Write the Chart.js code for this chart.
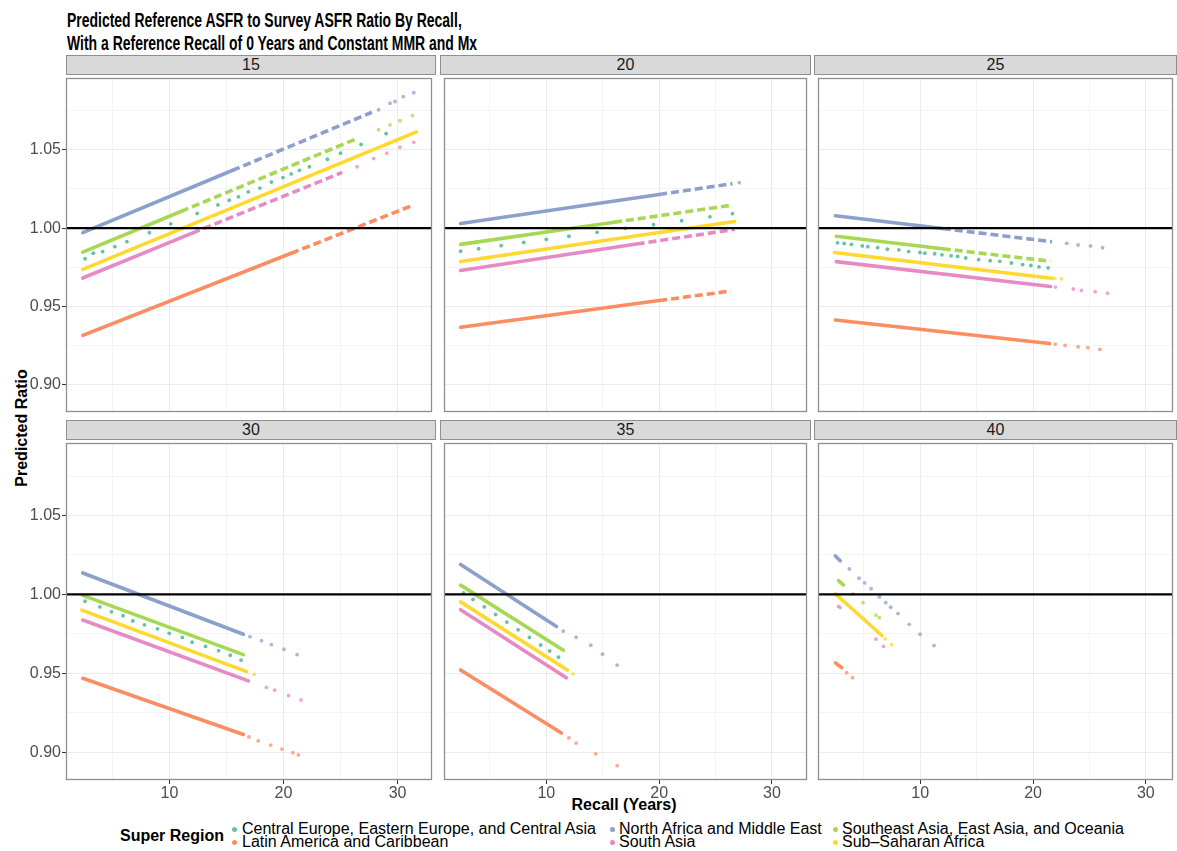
<!DOCTYPE html>
<html><head><meta charset="utf-8">
<title>Predicted Reference ASFR to Survey ASFR Ratio By Recall</title>
<script src="https://cdn.jsdelivr.net/npm/chart.js@4.4.1/dist/chart.umd.min.js"></script>
<style>
html,body{margin:0;padding:0;background:#fff;}
body{width:1177px;height:851px;position:relative;overflow:hidden;font-family:"Liberation Sans",Arial,Helvetica,sans-serif;}
canvas{position:absolute;}
.txt{position:absolute;white-space:nowrap;}
.title{left:67px;top:8px;font-weight:bold;font-size:21px;line-height:23px;color:#000;transform:scaleX(0.665);transform-origin:0 0;}
.strip{position:absolute;background:#d9d9d9;border:1px solid #8f8f8f;box-sizing:border-box;text-align:center;color:#1a1a1a;font-size:16px;}
.axt{font-weight:bold;font-size:16px;line-height:18px;color:#000;}
.leg{font-size:16px;line-height:16px;color:#000;}
.dot{position:absolute;width:5px;height:5px;border-radius:50%;}
</style></head><body>
<div class="txt title">Predicted Reference ASFR to Survey ASFR Ratio By Recall,<br>With a Reference Recall of 0 Years and Constant MMR and Mx</div>
<div class="txt axt" style="left:22px;top:428px;transform:translate(-50%,-50%) rotate(-90deg);">Predicted Ratio</div>
<div class="txt axt" style="left:624px;top:805px;transform:translate(-50%,-50%);">Recall (Years)</div>
<div class="txt axt" style="left:120px;top:827px;">Super Region</div>
<script>
// ---------- categories / labels ----------
const regions = ["Central Europe, Eastern Europe, and Central Asia","Latin America and Caribbean","North Africa and Middle East","South Asia","Southeast Asia, East Asia, and Oceania","Sub\u2013Saharan Africa"];
const regionKeys = ["CEE","LAC","NAME","SA","SEA","SSA"];
const facetAges = ["15","20","25","30","35","40"];
const yTickValues = [0.90, 0.95, 1.00, 1.05];
const xTickValues = [10, 20, 30];
const referenceRatio = 1.00;

// ---------- series values [recall, ratio] ----------
// Age 15
const p15_CEE_dots = [[2.60,0.9804],[3.32,0.9840],[4.14,0.9850],[5.21,0.9881],[6.27,0.9913],[8.24,0.9971],[10.12,1.0027],[12.43,1.0094],[14.25,1.0148],[15.24,1.0178],[16.05,1.0200],[16.91,1.0231],[17.93,1.0256],[18.94,1.0294],[19.95,1.0323],[20.67,1.0346],[21.40,1.0369],[22.27,1.0392],[23.85,1.0440],[25.00,1.0479],[26.80,1.0534],[29.00,1.0603]];
const p15_LAC_line = [[2.40,0.9315],[20.67,0.9839]];
const p15_LAC_dash = [[20.67,0.9839],[31.42,1.0148]];
const p15_NAME_line = [[2.40,0.9971],[15.50,1.0368]];
const p15_NAME_dash = [[15.50,1.0368],[27.75,1.0740]];
const p15_NAME_dots = [[28.34,1.0756],[29.34,1.0798],[29.78,1.0809],[30.50,1.0840],[31.42,1.0865]];
const p15_SA_line = [[2.40,0.9681],[12.00,0.9968]];
const p15_SA_dash = [[12.00,0.9968],[25.15,1.0356]];
const p15_SA_dots = [[26.45,1.0392],[27.90,1.0444],[29.06,1.0479],[30.21,1.0517],[31.42,1.0548]];
const p15_SEA_line = [[2.40,0.9846],[11.00,1.0106]];
const p15_SEA_dash = [[11.00,1.0106],[26.31,1.0568]];
const p15_SEA_dots = [[28.34,1.0629],[29.34,1.0660],[30.21,1.0686],[31.31,1.0719]];
const p15_SSA_line = [[2.40,0.9736],[31.66,1.0615]];
// Age 20
const p20_CEE_dots = [[2.40,0.9852],[4.00,0.9868],[6.00,0.9888],[8.00,0.9908],[10.00,0.9928],[12.00,0.9948],[14.50,0.9973],[17.00,0.9998],[19.50,1.0022],[22.00,1.0047],[24.50,1.0072],[26.50,1.0092]];
const p20_LAC_line = [[2.40,0.9367],[20.00,0.9537]];
const p20_LAC_dash = [[20.00,0.9537],[26.35,0.9598]];
const p20_NAME_line = [[2.40,1.0029],[20.00,1.0215]];
const p20_NAME_dash = [[20.00,1.0215],[26.50,1.0284]];
const p20_NAME_dots = [[27.10,1.0290]];
const p20_SA_line = [[2.40,0.9729],[18.00,0.9898]];
const p20_SA_dash = [[18.00,0.9898],[26.70,0.9992]];
const p20_SEA_line = [[2.40,0.9896],[16.00,1.0037]];
const p20_SEA_dash = [[16.00,1.0037],[26.50,1.0147]];
const p20_SSA_line = [[2.40,0.9786],[26.70,1.0042]];
// Age 25
const p25_CEE_dots = [[2.66,0.9906],[3.25,0.9902],[3.90,0.9896],[4.86,0.9886],[5.35,0.9881],[6.22,0.9875],[7.08,0.9865],[8.10,0.9861],[8.97,0.9850],[9.98,0.9844],[10.41,0.9840],[11.28,0.9836],[11.92,0.9829],[12.73,0.9823],[13.31,0.9819],[14.03,0.9809],[15.18,0.9798],[16.20,0.9792],[17.06,0.9788],[18.08,0.9777],[19.08,0.9767],[19.81,0.9761],[20.53,0.9752],[21.34,0.9746]];
const p25_LAC_line = [[2.47,0.9413],[21.46,0.9263]];
const p25_LAC_dots = [[21.98,0.9259],[22.84,0.9250],[24.00,0.9242],[24.86,0.9236],[25.93,0.9225]];
const p25_NAME_line = [[2.47,1.0079],[12.00,0.9997]];
const p25_NAME_dash = [[12.00,0.9997],[21.69,0.9913]];
const p25_NAME_dots = [[22.99,0.9903],[24.00,0.9892],[25.10,0.9886],[26.17,0.9875]];
const p25_SA_line = [[2.55,0.9786],[21.55,0.9627]];
const p25_SA_dots = [[21.98,0.9623],[23.57,0.9611],[24.29,0.9602],[25.51,0.9594],[26.61,0.9584]];
const p25_SEA_line = [[2.55,0.9948],[12.00,0.9868]];
const p25_SEA_dash = [[12.00,0.9868],[21.55,0.9788]];
const p25_SSA_line = [[2.38,0.9844],[21.63,0.9679]];
const p25_SSA_dots = [[21.92,0.9679],[22.50,0.9675]];
// Age 30
const p30_CEE_dots = [[2.60,0.9957],[3.90,0.9921],[4.92,0.9890],[5.93,0.9865],[6.79,0.9832],[7.81,0.9807],[8.96,0.9782],[9.98,0.9754],[11.13,0.9728],[11.99,0.9698],[13.16,0.9671],[14.31,0.9644],[15.33,0.9615],[16.28,0.9584]];
const p30_LAC_line = [[2.40,0.9469],[16.48,0.9113]];
const p30_LAC_dots = [[16.97,0.9098],[17.78,0.9073],[18.88,0.9046],[19.86,0.9021],[20.82,0.8998],[21.31,0.8984]];
const p30_NAME_line = [[2.40,1.0136],[16.48,0.9748]];
const p30_NAME_dots = [[17.06,0.9732],[18.07,0.9707],[18.94,0.9682],[20.04,0.9653],[21.19,0.9619]];
const p30_SA_line = [[2.40,0.9838],[16.92,0.9453]];
const p30_SA_dots = [[18.50,0.9411],[19.23,0.9394],[20.44,0.9359],[21.54,0.9332]];
const p30_SEA_line = [[2.40,0.9994],[16.48,0.9619]];
const p30_SSA_line = [[2.32,0.9901],[16.77,0.9511]];
const p30_SSA_dots = [[17.43,0.9494]];
// Age 35
const p35_CEE_dots = [[2.66,1.0009],[3.50,0.9968],[4.50,0.9921],[5.50,0.9873],[6.50,0.9825],[7.50,0.9776],[8.50,0.9728],[9.50,0.9680],[10.30,0.9642],[11.08,0.9603]];
const p35_LAC_line = [[2.40,0.9522],[11.34,0.9122]];
const p35_LAC_dots = [[12.00,0.9092],[12.64,0.9059],[14.37,0.8991],[16.28,0.8916]];
const p35_NAME_line = [[2.40,1.0190],[10.90,0.9797]];
const p35_NAME_dots = [[11.50,0.9768],[12.64,0.9729],[13.94,0.9679],[14.98,0.9622],[16.28,0.9553]];
const p35_SA_line = [[2.40,0.9903],[11.77,0.9472]];
const p35_SEA_line = [[2.40,1.0059],[11.51,0.9647]];
const p35_SSA_line = [[2.40,0.9953],[11.86,0.9522]];
const p35_SSA_dots = [[12.38,0.9497]];
// Age 40
const p40_LAC_line = [[2.47,0.9567],[3.04,0.9536]];
const p40_LAC_dots = [[3.47,0.9504],[3.99,0.9473]];
const p40_NAME_line = [[2.47,1.0244],[2.90,1.0213]];
const p40_NAME_dots = [[3.71,1.0161],[4.57,1.0103],[5.07,1.0073],[5.64,1.0036],[6.37,0.9984],[6.94,0.9948],[7.37,0.9919],[8.02,0.9879],[9.02,0.9811],[9.98,0.9748],[11.22,0.9676]];
const p40_SA_dots = [[2.75,0.9925],[2.90,0.9917],[6.07,0.9717],[6.74,0.9671]];
const p40_SEA_line = [[2.75,1.0088],[3.18,1.0061]];
const p40_SEA_dots = [[4.05,1.0004],[4.92,0.9948],[6.07,0.9869],[6.37,0.9853]];
const p40_SSA_line = [[2.47,1.0004],[6.59,0.9740]];
const p40_SSA_dots = [[6.89,0.9719],[7.46,0.9682]];

// ---------- lookup built from the arrays ----------
const seriesByAge = {
  "15": {CEE:{dots:p15_CEE_dots}, LAC:{line:p15_LAC_line,dash:p15_LAC_dash}, NAME:{line:p15_NAME_line,dash:p15_NAME_dash,dots:p15_NAME_dots}, SA:{line:p15_SA_line,dash:p15_SA_dash,dots:p15_SA_dots}, SEA:{line:p15_SEA_line,dash:p15_SEA_dash,dots:p15_SEA_dots}, SSA:{line:p15_SSA_line}},
  "20": {CEE:{dots:p20_CEE_dots}, LAC:{line:p20_LAC_line,dash:p20_LAC_dash}, NAME:{line:p20_NAME_line,dash:p20_NAME_dash,dots:p20_NAME_dots}, SA:{line:p20_SA_line,dash:p20_SA_dash}, SEA:{line:p20_SEA_line,dash:p20_SEA_dash}, SSA:{line:p20_SSA_line}},
  "25": {CEE:{dots:p25_CEE_dots}, LAC:{line:p25_LAC_line,dots:p25_LAC_dots}, NAME:{line:p25_NAME_line,dash:p25_NAME_dash,dots:p25_NAME_dots}, SA:{line:p25_SA_line,dots:p25_SA_dots}, SEA:{line:p25_SEA_line,dash:p25_SEA_dash}, SSA:{line:p25_SSA_line,dots:p25_SSA_dots}},
  "30": {CEE:{dots:p30_CEE_dots}, LAC:{line:p30_LAC_line,dots:p30_LAC_dots}, NAME:{line:p30_NAME_line,dots:p30_NAME_dots}, SA:{line:p30_SA_line,dots:p30_SA_dots}, SEA:{line:p30_SEA_line}, SSA:{line:p30_SSA_line,dots:p30_SSA_dots}},
  "35": {CEE:{dots:p35_CEE_dots}, LAC:{line:p35_LAC_line,dots:p35_LAC_dots}, NAME:{line:p35_NAME_line,dots:p35_NAME_dots}, SA:{line:p35_SA_line}, SEA:{line:p35_SEA_line}, SSA:{line:p35_SSA_line,dots:p35_SSA_dots}},
  "40": {LAC:{line:p40_LAC_line,dots:p40_LAC_dots}, NAME:{line:p40_NAME_line,dots:p40_NAME_dots}, SA:{dots:p40_SA_dots}, SEA:{line:p40_SEA_line,dots:p40_SEA_dots}, SSA:{line:p40_SSA_line,dots:p40_SSA_dots}}
};

// ---------- styles / layout ----------
const SET2 = ["#66C2A5","#FC8D62","#8DA0CB","#E78AC3","#A6D854","#FFD92F"];
const FONT = '"Liberation Sans", Arial, Helvetica, sans-serif';
function rgba(hex,a){const n=parseInt(hex.slice(1),16);return `rgba(${n>>16},${(n>>8)&255},${n&255},${a})`;}
const colLeft=[66,440,814], colW=[370,371,363], rowTop=[74,439], rowH=[342,341];
const X_MIN=0.93, xMaxByCol=[0.93+370/11.53, 0.93+371/11.53, 0.93+363/11.53];
const Y_MIN=0.8825, Y_MAX=1.0959;
const LY=56, LX=26;
const isMajorX=v=>xTickValues.some(t=>Math.abs(t-v)<1e-6);
const isMajorY=v=>yTickValues.some(t=>Math.abs(t-v)<1e-6);
const toXY=arr=>arr.map(p=>({x:p[0],y:p[1]}));

const panelDecor={id:'panelDecor',
  afterDatasetsDraw(chart){
    const {ctx,chartArea:a,scales}=chart;
    const py=scales.y.getPixelForValue(referenceRatio);
    ctx.save();
    ctx.beginPath();ctx.moveTo(a.left,py);ctx.lineTo(a.right,py);
    ctx.lineWidth=2.3;ctx.strokeStyle='#000';ctx.stroke();
    ctx.lineWidth=1.3;ctx.strokeStyle='#8f8f8f';
    ctx.strokeRect(a.left+0.5,a.top+0.5,a.right-a.left-1,a.bottom-a.top-1);
    ctx.restore();
  }};

facetAges.forEach((age,i)=>{
  const r=Math.floor(i/3), c=i%3;
  const showY=c===0, showX=r===1;
  const left=colLeft[c]-(showY?LY:0), top=rowTop[r];
  const w=colW[c]+(showY?LY:0), h=rowH[r]+(showX?LX:0);

  const s=document.createElement('div');
  s.className='strip';
  s.style.left=colLeft[c]+'px'; s.style.top=(rowTop[r]-19)+'px';
  s.style.width=colW[c]+'px'; s.style.height='20px'; s.style.lineHeight='18px';
  s.textContent=age; document.body.appendChild(s);

  const cv=document.createElement('canvas');
  cv.width=w; cv.height=h;
  cv.style.left=left+'px'; cv.style.top=top+'px'; cv.style.width=w+'px'; cv.style.height=h+'px';
  document.body.appendChild(cv);

  const datasets=[];
  regionKeys.forEach((k,ri)=>{
    const ser=seriesByAge[age][k]; if(!ser) return;
    const col=SET2[ri];
    if(ser.line) datasets.push({label:regions[ri],data:toXY(ser.line),showLine:true,borderColor:col,borderWidth:3.6,pointRadius:0,borderCapStyle:'round',order:10-ri});
    if(ser.dash) datasets.push({label:regions[ri],data:toXY(ser.dash),showLine:true,borderColor:col,borderWidth:3.6,borderDash:[8,4],pointRadius:0,borderCapStyle:'butt',order:10-ri});
    if(ser.dots) datasets.push({label:regions[ri],data:toXY(ser.dots),showLine:false,pointRadius:1.9,pointBorderWidth:0,pointBackgroundColor:k==='CEE'?col:rgba(col,0.75),order:10-ri});
  });

  new Chart(cv,{
    type:'scatter',
    data:{datasets},
    options:{
      responsive:false, animation:false, events:[], devicePixelRatio:1,
      layout:{padding:0},
      plugins:{legend:{display:false},tooltip:{enabled:false}},
      scales:{
        x:{type:'linear',min:X_MIN,max:xMaxByCol[c],
          ticks:{display:showX,stepSize:5,includeBounds:false,autoSkip:false,maxRotation:0,padding:0,color:'#4d4d4d',font:{family:FONT,size:16},callback:v=>isMajorX(v)?String(v):''},
          grid:{color:ctx=>ctx.tick&&isMajorX(ctx.tick.value)?'#ebebeb':'#f4f4f4',lineWidth:1,drawTicks:showX,tickLength:4,tickColor:ctx=>ctx.tick&&isMajorX(ctx.tick.value)?'#333':'rgba(0,0,0,0)'},
          border:{display:false},
          afterFit:sc=>{sc.height=showX?LX:0;sc.paddingLeft=0;sc.paddingRight=0;sc.paddingTop=0;sc.paddingBottom=0;}
        },
        y:{type:'linear',min:Y_MIN,max:Y_MAX,
          ticks:{display:showY,stepSize:0.025,includeBounds:false,autoSkip:false,padding:1,color:'#4d4d4d',font:{family:FONT,size:16},callback:v=>isMajorY(v)?v.toFixed(2):''},
          grid:{color:ctx=>ctx.tick&&isMajorY(ctx.tick.value)?'#ebebeb':'#f4f4f4',lineWidth:1,drawTicks:showY,tickLength:4,tickColor:ctx=>ctx.tick&&isMajorY(ctx.tick.value)?'#333':'rgba(0,0,0,0)'},
          border:{display:false},
          afterFit:sc=>{sc.width=showY?LY:0;sc.paddingLeft=0;sc.paddingRight=0;sc.paddingTop=0;sc.paddingBottom=0;}
        }
      }
    },
    plugins:[panelDecor]
  });
});

// ---------- legend ----------
const legTextX=[242,619,842], legDotX=[234,612,835], legRowY=[829,842];
regions.forEach((name,i)=>{
  const col=Math.floor(i/2), row=i%2;
  const d=document.createElement('div'); d.className='dot';
  d.style.background=SET2[i]; d.style.left=(legDotX[col]-2.5)+'px'; d.style.top=(legRowY[row]-2.5)+'px';
  document.body.appendChild(d);
  const t=document.createElement('div'); t.className='txt leg';
  t.style.left=legTextX[col]+'px'; t.style.top=(legRowY[row]-8)+'px';
  t.textContent=name; document.body.appendChild(t);
});
</script>
</body></html>
